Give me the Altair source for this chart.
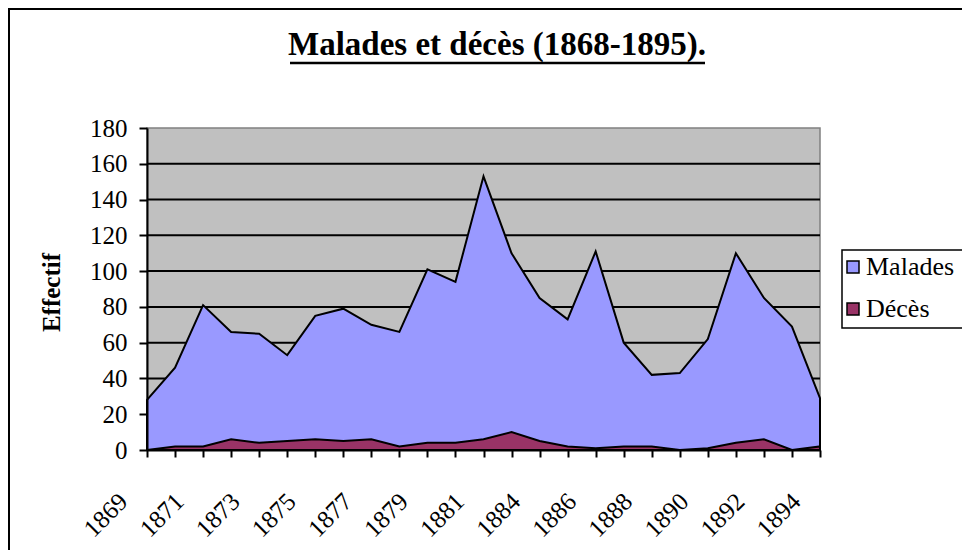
import json
import altair as alt
import pandas as pd

# ---- data ----
years = ["1869", "1870", "1871", "1872", "1873", "1874", "1875", "1876", "1877",
         "1878", "1879", "1880", "1881", "1882", "1884", "1885", "1886", "1887",
         "1888", "1889", "1890", "1891", "1892", "1893", "1894"]
malades = [28, 46, 81, 66, 65, 53, 75, 79, 70, 66, 101, 94, 153, 110, 85, 73,
           111, 60, 42, 43, 62, 110, 85, 69, 29]
deces = [0, 2, 2, 6, 4, 5, 6, 5, 6, 2, 4, 4, 6, 10, 5, 2, 1, 2, 2, 0, 1, 4, 6, 0, 2]
x_tick_labels = ["1869", "1871", "1873", "1875", "1877", "1879", "1881", "1884",
                 "1886", "1888", "1890", "1892", "1894"]
y_ticks = [0, 20, 40, 60, 80, 100, 120, 140, 160, 180]
grid_values = [20, 40, 60, 80, 100, 120, 140, 160]
series_names = ["Malades", "Décès"]
series_colors = ["#9999FF", "#993366"]
title_text = "Malades et décès (1868-1895)."
y_title = "Effectif"

FONT = "'Times New Roman', 'Liberation Serif', serif"
W, H = 673, 322

df = pd.DataFrame({
    "year": years * 2,
    "value": malades + deces,
    "series": ["Malades"] * len(years) + ["Décès"] * len(years),
})
grid_df = pd.DataFrame({"value": grid_values})
one = pd.DataFrame({"a": [0]})

label_expr = "indexof(" + json.dumps(x_tick_labels) + ", datum.label) >= 0 ? datum.label : ''"

x_enc = alt.X(
    "year:O", sort=None, title=None,
    scale=alt.Scale(type="point", padding=0),
    axis=alt.Axis(labelExpr=label_expr, labelAngle=-45, labelAlign="right",
                  labelBaseline="middle", labelFont=FONT, labelFontSize=25,
                  labelPadding=40, labelOffset=-24, tickSize=7, tickWidth=2,
                  domainWidth=2, domainColor="black", tickColor="black",
                  labelColor="black", grid=False, zindex=1),
)
y_enc = alt.Y(
    "value:Q", title=y_title,
    scale=alt.Scale(domain=[0, 180], nice=False, zero=True),
    axis=alt.Axis(values=y_ticks, labelFont=FONT, labelFontSize=25,
                  labelPadding=12, tickSize=8, tickWidth=2, domainWidth=2,
                  domainColor="black", tickColor="black", labelColor="black",
                  grid=False, zindex=1, titleFont=FONT, titleFontSize=25,
                  titleFontWeight="bold", titleColor="black", titleAngle=-90,
                  titleX=-88, titleY=H / 2 + 3, titleAlign="center",
                  titleBaseline="alphabetic"),
    stack=None,
)
color_enc = alt.Color(
    "series:N",
    scale=alt.Scale(domain=series_names, range=series_colors),
    legend=alt.Legend(title=None, orient="none", legendX=693, legendY=126,
                      padding=0, symbolType="square", symbolSize=144,
                      symbolStrokeColor="black", symbolStrokeWidth=1.5,
                      symbolOpacity=1, labelFont=FONT, labelFontSize=26,
                      labelColor="black", labelOffset=0, rowPadding=16),
)

frame = alt.Chart(one).mark_rect(fillOpacity=0, stroke="black", strokeWidth=2).encode(
    x=alt.value(-138), x2=alt.value(1000), y=alt.value(-119), y2=alt.value(800))

grid = alt.Chart(grid_df).mark_rule(color="black", strokeWidth=2).encode(y=y_enc)

area_m = alt.Chart(df).transform_filter(alt.datum.series == "Malades").mark_area(
    stroke="black", strokeWidth=2, opacity=1, line=False
).encode(x=x_enc, y=y_enc, color=color_enc)

area_d = alt.Chart(df).transform_filter(alt.datum.series == "Décès").mark_area(
    stroke="black", strokeWidth=2, opacity=1
).encode(x=x_enc, y=y_enc, color=color_enc)

title = alt.Chart(one).mark_text(
    text=title_text, font=FONT, fontSize=33, fontWeight="bold",
    align="center", baseline="alphabetic", color="black"
).encode(x=alt.value(350), y=alt.value(-73))

underline = alt.Chart(one).mark_rule(color="black", strokeWidth=2.5).encode(
    x=alt.value(143), x2=alt.value(558), y=alt.value(-65))

legend_box = alt.Chart(one).mark_rect(fill="white", stroke="black", strokeWidth=1.5).encode(
    x=alt.value(695), x2=alt.value(900), y=alt.value(122), y2=alt.value(200))

chart = alt.layer(frame, grid, area_m, area_d, title, underline, legend_box).properties(
    width=W, height=H,
    autosize=alt.AutoSizeParams(type="none"),
    padding={"left": 139, "top": 120, "right": 142, "bottom": 100},
    background="white",
).configure_view(
    fill="#C0C0C0", stroke="#808080", strokeWidth=1.5
)

chart.save("out.html", embed_options={"renderer": "svg", "actions": False})
